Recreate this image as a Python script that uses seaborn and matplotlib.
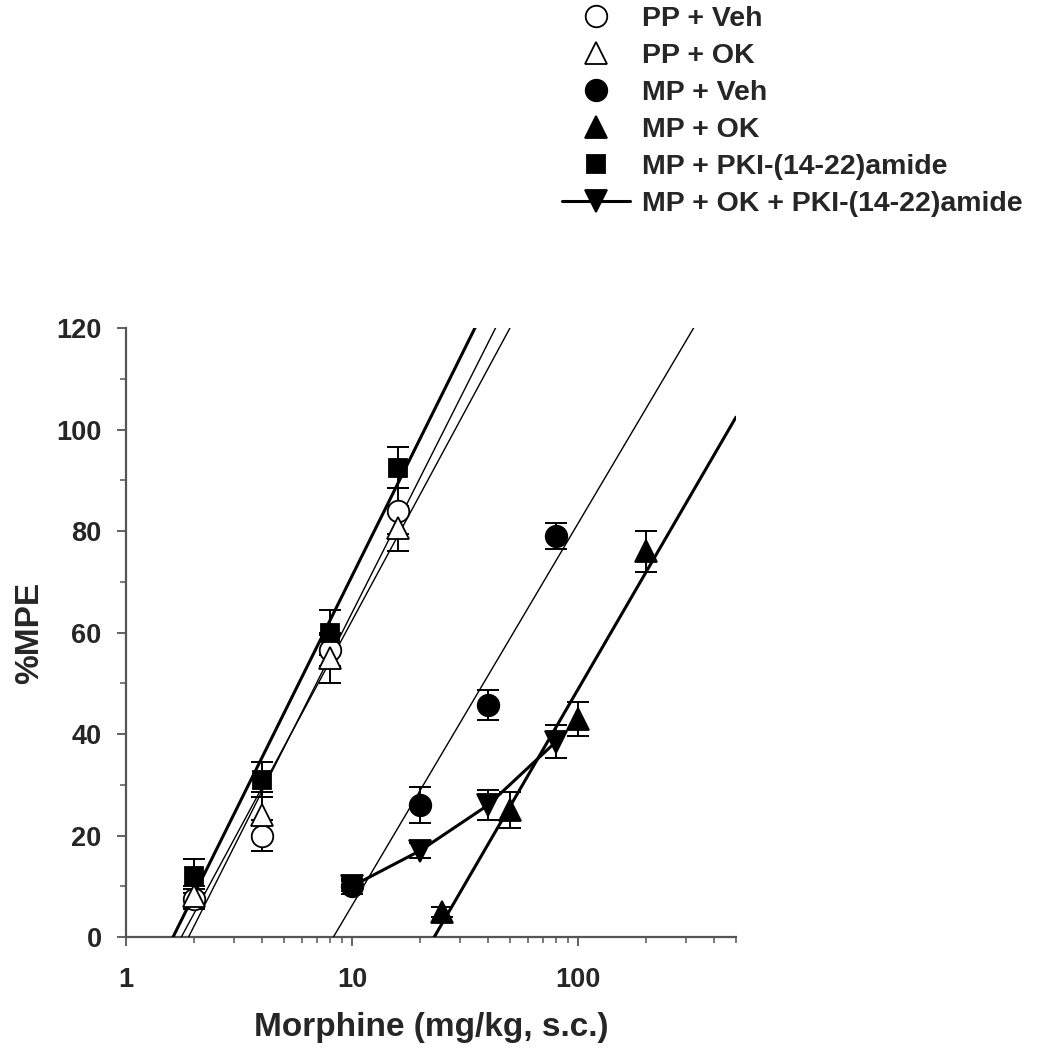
import numpy as np
import pandas as pd
import matplotlib
matplotlib.use("Agg")
import matplotlib.pyplot as plt
import seaborn as sns

# ---------------- data ----------------
pp_veh_x = [2, 4, 8, 16]
pp_veh_y = [7.5, 20, 56.5, 84]
pp_veh_e = [2.0, 3.0, 3.0, 4.5]

pp_ok_x = [2, 4, 8, 16]
pp_ok_y = [8, 24, 55, 80.5]
pp_ok_e = [2.0, 4.5, 5.0, 4.5]

mp_veh_x = [10, 20, 40, 80]
mp_veh_y = [10, 26, 45.7, 79]
mp_veh_e = [1.5, 3.6, 3.0, 2.5]

mp_ok_x = [25, 50, 100, 200]
mp_ok_y = [5, 25, 43, 76]
mp_ok_e = [1.0, 3.5, 3.4, 4.0]

mp_pki_x = [2, 4, 8, 16]
mp_pki_y = [12, 31, 60, 92.5]
mp_pki_e = [3.4, 3.4, 4.4, 4.0]

mp_ok_pki_x = [10, 20, 40, 80]
mp_ok_pki_y = [10, 17, 26, 38.5]
mp_ok_pki_e = [1.0, 1.5, 3.0, 3.3]

labels = ["PP + Veh", "PP + OK", "MP + Veh", "MP + OK",
          "MP + PKI-(14-22)amide", "MP + OK + PKI-(14-22)amide"]

x_ticks = [1, 10, 100]
x_ticklabels = ["1", "10", "100"]
y_ticks = [0, 20, 40, 60, 80, 100, 120]

# ---------------- style ----------------
sns.set_style("ticks")
plt.rcParams['font.family'] = ['Liberation Sans', 'DejaVu Sans']
plt.rcParams['font.weight'] = 'bold'

fig = plt.figure(figsize=(10.49, 10.50), dpi=100)
ax = fig.add_axes([0.120, 0.1076, 0.5816, 0.58])

ax.set_xscale("log")
ax.set_xlim(1, 500)
ax.set_ylim(0, 120)

series = [
    (pp_veh_x, pp_veh_y, pp_veh_e, "o", "white", 1.0, True),
    (pp_ok_x, pp_ok_y, pp_ok_e, "^", "white", 1.0, True),
    (mp_veh_x, mp_veh_y, mp_veh_e, "o", "black", 1.0, True),
    (mp_ok_x, mp_ok_y, mp_ok_e, "^", "black", 2.2, True),
    (mp_pki_x, mp_pki_y, mp_pki_e, "s", "black", 2.2, True),
    (mp_ok_pki_x, mp_ok_pki_y, mp_ok_pki_e, "v", "black", 2.2, False),
]
msizes = {"o": 15.5, "^": 15.5, "s": 13.5, "v": 15.5}

handles = []
xgrid = np.logspace(0, np.log10(500), 400)
for (xs, ys, es, mk, fc, lw, fit), lab in zip(series, labels):
    ax.errorbar(xs, ys, yerr=es, fmt="none", ecolor="black",
                elinewidth=1.4, capsize=8, capthick=1.4, zorder=2)
    if fit:
        slope, icpt = np.polyfit(np.log10(xs), ys, 1)
        df = pd.DataFrame({"x": xgrid, "y": slope * np.log10(xgrid) + icpt})
        sns.lineplot(data=df, x="x", y="y", ax=ax, color="black",
                     linewidth=lw, zorder=3, legend=False)
        h, = ax.plot(xs, ys, linestyle="none", marker=mk, markersize=msizes[mk],
                     markerfacecolor=fc, markeredgecolor="black",
                     markeredgewidth=1.3, zorder=5, label=lab)
    else:
        h, = ax.plot(xs, ys, linestyle="-", color="black", linewidth=lw,
                     marker=mk, markersize=msizes[mk], markerfacecolor=fc,
                     markeredgecolor="black", markeredgewidth=1.3,
                     zorder=4, label=lab)
    handles.append(h)

ax.set_ylim(0, 120)
ax.set_xlim(1, 500)

# ticks
ax.set_xticks(x_ticks)
ax.set_xticklabels(x_ticklabels)
ax.set_yticks(y_ticks)
ax.set_yticks(np.arange(10, 120, 20), minor=True)
ax.tick_params(axis="both", which="major", length=6.5, width=1.3,
               labelsize=19.5, color="#555555")
ax.tick_params(axis="both", which="minor", length=4, width=1.1, color="#555555")
ax.tick_params(axis="y", which="major", pad=11)
ax.tick_params(axis="x", which="major", pad=15)
for t in ax.get_xticklabels() + ax.get_yticklabels():
    t.set_fontweight("bold")

sns.despine(ax=ax)
for s in ["left", "bottom"]:
    ax.spines[s].set_linewidth(1.6)
    ax.spines[s].set_color("#555555")

ax.set_xlabel("Morphine (mg/kg, s.c.)", fontsize=24, fontweight="bold", labelpad=14)
ax.set_ylabel("%MPE", fontsize=24, fontweight="bold", labelpad=8)

fig.legend(handles=handles, labels=labels, loc="upper left",
           bbox_to_anchor=(0.5357, 0.994), frameon=False,
           prop={"weight": "bold", "size": 20.5}, handlelength=2.39,
           handletextpad=0.42, labelspacing=0.383, borderpad=0, borderaxespad=0)

fig.savefig("out.png", dpi=100)
